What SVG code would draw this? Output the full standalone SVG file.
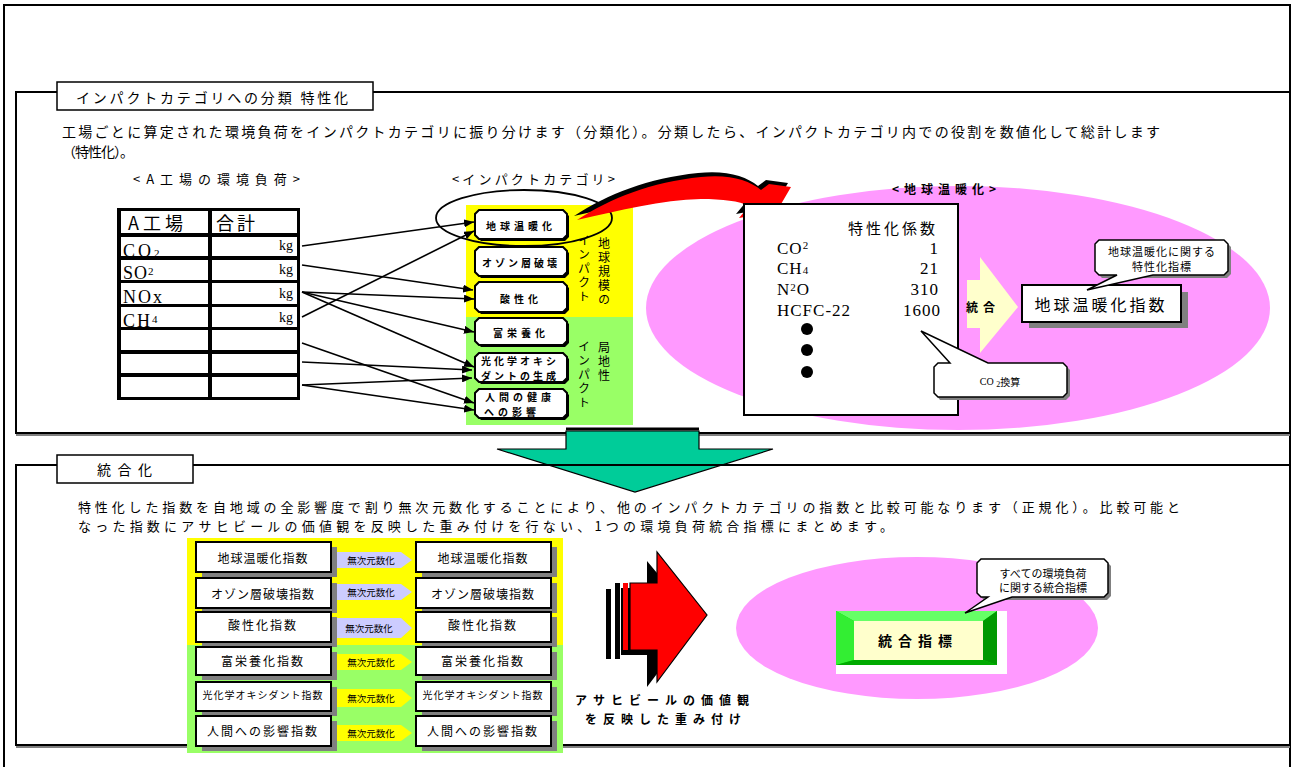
<svg xmlns="http://www.w3.org/2000/svg" width="1298" height="767" viewBox="0 0 1298 767">
<defs>
<style>
.jp{font-family:"Noto Sans CJK JP","Noto Sans",sans-serif;fill:#000}
.sf{font-family:"Liberation Serif","Noto Sans CJK JP",serif;fill:#000}
.b{font-weight:bold}
.frame{fill:none;stroke:#000;stroke-width:2}
.tab{fill:#fff;stroke:#000;stroke-width:1.5}
.cat{fill:#fff;stroke:#000;stroke-width:2}
.catsh{fill:#000}
.conn{stroke:#000;stroke-width:1.6;fill:none;marker-end:url(#ah)}
.ibox{fill:#fff;stroke:#000;stroke-width:2}
.ish{fill:#808080}
.call{fill:#fff;stroke:#000;stroke-width:1.5}
.callsh{fill:#808080}
.c{text-anchor:middle;dominant-baseline:central}
.m{dominant-baseline:central}
.v{writing-mode:vertical-rl;font-size:12px;letter-spacing:2px}
</style>
<marker id="ah" viewBox="0 0 10 8" refX="10" refY="4" markerWidth="10" markerHeight="8" orient="auto" markerUnits="userSpaceOnUse">
<path d="M0,0 L10,4 L0,8 Z" fill="#000"/>
</marker>
</defs>
<rect width="1298" height="767" fill="#fff"/>
<rect x="4" y="5" width="1286" height="790" class="frame"/>

<!-- Section 1 -->
<g id="section1">
<rect x="16" y="92" width="1274" height="341" class="frame"/>
<line x1="16" y1="435" x2="1290" y2="435" stroke="#808080" stroke-width="2"/>
<rect x="57" y="82" width="316" height="28" class="tab"/>
<text x="76" y="97" class="jp m" font-size="14" textLength="272" lengthAdjust="spacing">インパクトカテゴリへの分類 特性化</text>
<text x="62" y="131" class="jp m" font-size="14" textLength="1098" lengthAdjust="spacing">工場ごとに算定された環境負荷をインパクトカテゴリに振り分けます（分類化）。分類したら、インパクトカテゴリ内での役割を数値化して総計します</text>
<text x="62" y="151" class="jp m" font-size="14" textLength="72" lengthAdjust="spacing">（特性化）。</text>
<text x="133" y="178" class="jp m" font-size="13" textLength="167" lengthAdjust="spacing">&lt;A工場の環境負荷&gt;</text>
<text x="452" y="178" class="jp m" font-size="13" textLength="163" lengthAdjust="spacing">&lt;インパクトカテゴリ&gt;</text>
</g>

<!-- Table -->
<g id="table">
<rect x="117" y="208" width="183" height="192" fill="#000"/>
<g fill="#fff">
<rect x="121" y="211" width="87" height="22"/><rect x="212" y="211" width="85" height="22"/>
<rect x="121" y="237" width="87" height="19"/><rect x="212" y="237" width="85" height="19"/>
<rect x="121" y="260" width="87" height="20"/><rect x="212" y="260" width="85" height="20"/>
<rect x="121" y="283" width="87" height="21"/><rect x="212" y="283" width="85" height="21"/>
<rect x="121" y="307" width="87" height="20"/><rect x="212" y="307" width="85" height="20"/>
<rect x="121" y="330" width="87" height="20"/><rect x="212" y="330" width="85" height="20"/>
<rect x="121" y="354" width="87" height="19"/><rect x="212" y="354" width="85" height="19"/>
<rect x="121" y="377" width="87" height="20"/><rect x="212" y="377" width="85" height="20"/>
</g>
<text x="128" y="222" class="jp m" font-size="18" letter-spacing="4">A工場</text>
<text x="216" y="222" class="jp m" font-size="18" letter-spacing="3">合計</text>
<text x="123" y="257" class="sf" font-size="18" letter-spacing="3">CO<tspan font-size="11">2</tspan></text>
<text x="123" y="279" class="sf" font-size="18" letter-spacing="1">SO<tspan font-size="11" dy="-4">2</tspan></text>
<text x="123" y="303" class="sf" font-size="18" letter-spacing="2">NOx</text>
<text x="123" y="327" class="sf" font-size="18" letter-spacing="2">CH<tspan font-size="11" dy="-4">4</tspan></text>
<g class="sf" font-size="14" text-anchor="end">
<text x="293" y="250">kg</text><text x="293" y="274">kg</text><text x="293" y="298">kg</text><text x="293" y="322">kg</text>
</g>
</g>

<!-- Category column -->
<g id="categories">
<rect x="466" y="205" width="167" height="112" fill="#ffff00"/>
<rect x="466" y="317" width="167" height="108" fill="#99ff66"/>
<text x="604" y="237" class="jp v">地球規模の</text>
<text x="584" y="234" class="jp v">インパクト</text>
<text x="604" y="341" class="jp v">局地性</text>
<text x="584" y="340" class="jp v">インパクト</text>
</g>

<g id="cat-warming">
<path class="catsh" d="M481,212 H565 L569,216 V237 L565,241 H481 L477,237 V216 Z"/>
<path class="cat" d="M479,210 H563 L567,214 V235 L563,239 H479 L475,235 V214 Z"/>
<text x="521" y="225" class="jp c b" font-size="10" letter-spacing="4">地球温暖化</text>
</g>
<g id="cat-ozone">
<path class="catsh" d="M481,249 H565 L569,253 V274 L565,278 H481 L477,274 V253 Z"/>
<path class="cat" d="M479,247 H563 L567,251 V272 L563,276 H479 L475,272 V251 Z"/>
<text x="521" y="262" class="jp c b" font-size="10" letter-spacing="3">オゾン層破壊</text>
</g>
<g id="cat-acid">
<path class="catsh" d="M481,284 H565 L569,288 V310 L565,314 H481 L477,310 V288 Z"/>
<path class="cat" d="M479,282 H563 L567,286 V308 L563,312 H479 L475,308 V286 Z"/>
<text x="521" y="298" class="jp c b" font-size="10" letter-spacing="4">酸性化</text>
</g>
<g id="cat-eutro">
<path class="catsh" d="M481,320 H565 L569,324 V343 L565,347 H481 L477,343 V324 Z"/>
<path class="cat" d="M479,318 H563 L567,322 V341 L563,345 H479 L475,341 V322 Z"/>
<text x="521" y="332" class="jp c b" font-size="10" letter-spacing="4">富栄養化</text>
</g>
<g id="cat-photo">
<path class="catsh" d="M481,355 H565 L569,359 V380 L565,384 H481 L477,380 V359 Z"/>
<path class="cat" d="M479,353 H563 L567,357 V378 L563,382 H479 L475,378 V357 Z"/>
<text x="520" y="360" class="jp c b" font-size="10" letter-spacing="3">光化学オキシ</text>
<text x="520" y="375.5" class="jp c b" font-size="10" letter-spacing="3">ダントの生成</text>
</g>
<g id="cat-health">
<path class="catsh" d="M481,391 H565 L569,395 V416 L565,420 H481 L477,416 V395 Z"/>
<path class="cat" d="M479,389 H563 L567,393 V414 L563,418 H479 L475,414 V393 Z"/>
<text x="520" y="396" class="jp c b" font-size="10" letter-spacing="4">人間の健康</text>
<text x="512" y="411.5" class="jp c b" font-size="10" letter-spacing="4">への影響</text>
</g>

<!-- Connectors -->
<g id="connectors">
<line class="conn" x1="302" y1="246" x2="474" y2="222"/>
<line class="conn" x1="302" y1="317" x2="474" y2="231"/>
<line class="conn" x1="302" y1="265" x2="473" y2="290"/>
<line class="conn" x1="302" y1="292" x2="474" y2="299"/>
<line class="conn" x1="302" y1="292" x2="474" y2="332"/>
<line class="conn" x1="302" y1="292" x2="474" y2="367"/>
<line class="conn" x1="302" y1="343" x2="474" y2="403"/>
<line class="conn" x1="302" y1="362" x2="472" y2="370"/>
<line class="conn" x1="302" y1="385" x2="472" y2="378"/>
<line class="conn" x1="302" y1="385" x2="474" y2="410"/>
</g>

<!-- Pink ellipse + warming detail -->
<g id="warming-area">
<ellipse cx="958" cy="308" rx="312" ry="122" fill="#ff99ff"/>
<text x="892" y="188" class="jp m b" font-size="12" letter-spacing="5">&lt;地球温暖化&gt;</text>
</g>

<g id="highlight-ellipse">
<ellipse cx="524" cy="218" rx="88" ry="28" fill="none" stroke="#000" stroke-width="1.8"/>
</g>

<g id="curved-arrow">
<path d="M574,216 C608,194 648,178 698,173 C726,170 746,176 758,186 L766,180 L788,183 L774,207 L736,214 L746,202 C736,197 720,195 698,195 C658,196 618,206 574,216 Z" fill="#000"/>
<path d="M577,220 C611,198 651,182 701,177 C729,174 749,180 761,190 L769,184 L791,187 L777,211 L739,218 L749,206 C739,201 723,199 701,199 C661,200 621,210 577,220 Z" fill="#ff0000"/>
</g>

<g id="coef-box">
<rect x="744" y="204" width="214" height="211" fill="#fff" stroke="#000" stroke-width="2"/>
<text x="848" y="227" class="jp m" font-size="15" letter-spacing="3">特性化係数</text>
<g class="sf" font-size="17" letter-spacing="1">
<text x="777" y="254">CO<tspan font-size="11" dy="-5">2</tspan></text>
<text x="777" y="274">CH<tspan font-size="11">4</tspan></text>
<text x="777" y="295">N<tspan font-size="11" dy="-4">2</tspan><tspan dy="4">O</tspan></text>
<text x="777" y="316">HCFC-22</text>
</g>
<g class="sf" font-size="17" letter-spacing="1" text-anchor="end">
<text x="939" y="254">1</text>
<text x="939" y="274">21</text>
<text x="939" y="295">310</text>
<text x="941" y="316">1600</text>
</g>
<circle cx="807" cy="329" r="6" fill="#000"/>
<circle cx="807" cy="350" r="6" fill="#000"/>
<circle cx="807" cy="372" r="6" fill="#000"/>
</g>

<g id="callout-co2">
<path class="callsh" d="M940,366 H1066 L1070,370 V396 L1066,400 H940 L937,396 V370 Z"/>
<path class="call" d="M938,363 H950 L921,331 L988,363 H1063 L1067,367 V393 L1063,397 H938 L934,393 V367 Z"/>
<text x="1000" y="381" class="c" font-size="10"><tspan class="sf">CO </tspan><tspan class="sf" font-size="8" dy="3">2</tspan><tspan class="jp" dy="-3">換算</tspan></text>
</g>

<g id="integrate-arrow">
<path d="M967,280 H980 V257 L1018,307 L980,353 V328 H967 Z" fill="#ffffcc"/>
<text x="966" y="306" class="jp m b" font-size="12" letter-spacing="5">統合</text>
</g>

<g id="warming-index">
<rect x="1029" y="292" width="159" height="36" class="ish"/>
<rect x="1022" y="285" width="159" height="37" class="ibox"/>
<text x="1101" y="304" class="jp c" font-size="16" letter-spacing="3">地球温暖化指数</text>
</g>

<g id="callout-warming">
<path class="callsh" d="M1102,243 H1227 L1231,247 V274 L1227,278 H1102 L1098,274 V247 Z"/>
<path class="call" d="M1099,240 H1224 L1228,244 V271 L1224,275 H1153 L1087,290 L1117,275 H1099 L1095,271 V244 Z"/>
<text x="1162" y="250.5" class="jp c" font-size="11" letter-spacing="1">地球温暖化に関する</text>
<text x="1162" y="266" class="jp c" font-size="11" letter-spacing="1">特性化指標</text>
</g>

<!-- Teal down arrow -->
<g id="down-arrow">
<path d="M566,431 H699 V449 H773 L635,492 L497,449 H566 Z" fill="#00cc99" stroke="#000" stroke-width="1.2"/>
<line x1="566" y1="429" x2="699" y2="429" stroke="#000" stroke-width="3"/>
</g>

<!-- Section 2 -->
<g id="section2">
<rect x="16" y="465" width="1274" height="280" class="frame"/>
<line x1="16" y1="747" x2="1290" y2="747" stroke="#808080" stroke-width="2"/>
<rect x="57" y="455" width="136" height="28" class="tab"/>
<text x="97" y="469" class="jp m" font-size="14" textLength="55" lengthAdjust="spacing">統合化</text>
<text x="78" y="506" class="jp m" font-size="13" textLength="1102" lengthAdjust="spacing">特性化した指数を自地域の全影響度で割り無次元数化することにより、他のインパクトカテゴリの指数と比較可能なります（正規化）。比較可能と</text>
<text x="78" y="525" class="jp m" font-size="13" textLength="815" lengthAdjust="spacing">なった指数にアサヒビールの価値観を反映した重み付けを行ない、1つの環境負荷統合指標にまとめます。</text>
</g>

<g id="normalize-bg">
<rect x="187" y="538" width="376" height="107" fill="#ffff00"/>
<rect x="187" y="645" width="376" height="108" fill="#99ff66"/>
</g>

<g id="left-indices" class="jp">
<rect x="202" y="547" width="135" height="30" class="ish"/><rect x="196" y="542" width="135" height="30" class="ibox"/>
<text x="263" y="557" class="c" font-size="12" letter-spacing="1">地球温暖化指数</text>
<rect x="202" y="583" width="135" height="30" class="ish"/><rect x="196" y="578" width="135" height="30" class="ibox"/>
<text x="263" y="593" class="c" font-size="12" letter-spacing="1">オゾン層破壊指数</text>
<rect x="202" y="617" width="135" height="30" class="ish"/><rect x="196" y="612" width="135" height="30" class="ibox"/>
<text x="263" y="624" class="c" font-size="12" letter-spacing="2">酸性化指数</text>
<rect x="202" y="652" width="135" height="28" class="ish"/><rect x="196" y="647" width="135" height="28" class="ibox"/>
<text x="263" y="660" class="c" font-size="12" letter-spacing="2">富栄養化指数</text>
<rect x="202" y="687" width="135" height="29" class="ish"/><rect x="196" y="682" width="135" height="29" class="ibox"/>
<text x="263" y="694" class="c" font-size="10" letter-spacing="1">光化学オキシダント指数</text>
<rect x="202" y="721" width="135" height="30" class="ish"/><rect x="196" y="716" width="135" height="30" class="ibox"/>
<text x="263" y="730" class="c" font-size="12" letter-spacing="2">人間への影響指数</text>
</g>

<g id="right-indices" class="jp">
<rect x="422" y="547" width="135" height="30" class="ish"/><rect x="416" y="542" width="135" height="30" class="ibox"/>
<text x="483" y="557" class="c" font-size="12" letter-spacing="1">地球温暖化指数</text>
<rect x="422" y="583" width="135" height="30" class="ish"/><rect x="416" y="578" width="135" height="30" class="ibox"/>
<text x="483" y="593" class="c" font-size="12" letter-spacing="1">オゾン層破壊指数</text>
<rect x="422" y="617" width="135" height="30" class="ish"/><rect x="416" y="612" width="135" height="30" class="ibox"/>
<text x="483" y="624" class="c" font-size="12" letter-spacing="2">酸性化指数</text>
<rect x="422" y="652" width="135" height="28" class="ish"/><rect x="416" y="647" width="135" height="28" class="ibox"/>
<text x="483" y="660" class="c" font-size="12" letter-spacing="2">富栄養化指数</text>
<rect x="422" y="687" width="135" height="29" class="ish"/><rect x="416" y="682" width="135" height="29" class="ibox"/>
<text x="483" y="694" class="c" font-size="10" letter-spacing="1">光化学オキシダント指数</text>
<rect x="422" y="721" width="135" height="30" class="ish"/><rect x="416" y="716" width="135" height="30" class="ibox"/>
<text x="483" y="730" class="c" font-size="12" letter-spacing="2">人間への影響指数</text>
</g>

<g id="normalize-arrows" class="jp">
<path d="M337,552 H401 L412,560 L401,568 H337 Z" fill="#ccccff"/>
<text x="371" y="560" class="c" font-size="9.5">無次元数化</text>
<path d="M337,584 H401 L412,592 L401,600 H337 Z" fill="#ccccff"/>
<text x="371" y="592" class="c" font-size="9.5">無次元数化</text>
<path d="M337,618 H401 L412,628 L401,638 H337 Z" fill="#ccccff"/>
<text x="369" y="628" class="c" font-size="9.5">無次元数化</text>
<path d="M337,654 H401 L412,662 L401,670 H337 Z" fill="#ffff00"/>
<text x="371" y="662" class="c" font-size="9.5">無次元数化</text>
<path d="M337,689 H401 L412,698 L401,707 H337 Z" fill="#ffff00"/>
<text x="371" y="698" class="c" font-size="9.5">無次元数化</text>
<path d="M337,725 H401 L412,733 L401,741 H337 Z" fill="#ffff00"/>
<text x="371" y="733" class="c" font-size="9.5">無次元数化</text>
</g>

<g id="weight-arrow">
<rect x="606" y="589" width="5" height="70" fill="#000"/>
<rect x="615" y="583" width="5" height="76" fill="#000"/>
<path d="M621,588 H647 V561 L697,621 L647,687 V655 H621 Z" fill="#000"/>
<rect x="623" y="583" width="5" height="67" fill="#ff0000"/>
<path d="M630,583 H657 V552 L707,615 L657,682 V650 H630 Z" fill="#ff0000" stroke="#000" stroke-width="1.2"/>
<text x="575" y="699" class="jp m b" font-size="12" letter-spacing="6">アサヒビールの価値観</text>
<text x="585" y="718" class="jp m b" font-size="12" letter-spacing="6">を反映した重み付け</text>
</g>

<g id="integrated-area">
<ellipse cx="917" cy="628" rx="181" ry="71" fill="#ff99ff"/>
</g>

<g id="integrated-index">
<rect x="836" y="611" width="171" height="63" fill="#fff"/>
<rect x="836" y="611" width="161" height="54" fill="#00dd00"/>
<path d="M836,611 H997 L983,621 H854 Z" fill="#66ff66"/>
<path d="M836,611 L854,621 V660 L836,665 Z" fill="#33ee33"/>
<path d="M997,611 V665 L983,660 V621 Z" fill="#009900"/>
<path d="M836,665 H997 L983,660 H854 Z" fill="#00aa00"/>
<rect x="854" y="621" width="129" height="39" fill="#ffffcc"/>
<text x="918" y="640" class="jp c b" font-size="14" letter-spacing="6">統合指標</text>
</g>

<g id="callout-integrated">
<path class="callsh" d="M984,562 H1107 L1111,566 V596 L1107,600 H984 L980,596 V566 Z"/>
<path class="call" d="M981,559 H1104 L1108,563 V593 L1104,597 H1012 L965,613 L988,597 H981 L977,593 V563 Z"/>
<text x="1043" y="572.5" class="jp c" font-size="11">すべての環境負荷</text>
<text x="1043" y="587" class="jp c" font-size="11">に関する統合指標</text>
</g>
</svg>
